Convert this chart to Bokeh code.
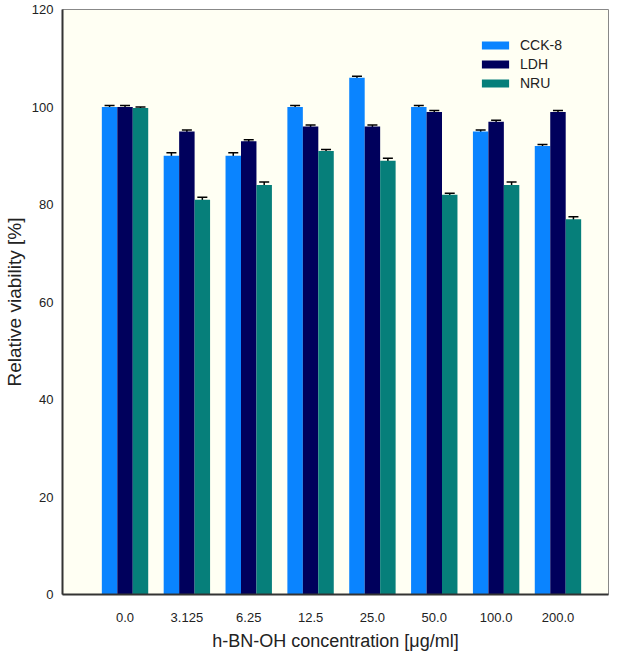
from bokeh.plotting import figure
from bokeh.models import ColumnDataSource, FixedTicker, Range1d, Whisker, Legend, LegendItem
from bokeh.transform import dodge
from bokeh.embed import file_html
from bokeh.resources import INLINE

concentrations = ["0.0", "3.125", "6.25", "12.5", "25.0", "50.0", "100.0", "200.0"]
cck8 = [100.0, 90.0, 90.0, 100.0, 106.0, 100.0, 95.0, 92.0]
ldh = [100.0, 95.0, 93.0, 96.0, 96.0, 99.0, 97.0, 99.0]
nru = [99.8, 81.0, 84.0, 91.0, 89.0, 82.0, 84.0, 77.0]
cck8_err = [0.3, 0.6, 0.6, 0.3, 0.3, 0.3, 0.3, 0.3]
ldh_err = [0.3, 0.3, 0.3, 0.3, 0.3, 0.3, 0.3, 0.3]
nru_err = [0.2, 0.5, 0.6, 0.3, 0.5, 0.3, 0.6, 0.5]
y_ticks = [0, 20, 40, 60, 80, 100, 120]

FONT = "Liberation Sans"
TXT = "#222222"

idx = list(range(len(concentrations)))
src = ColumnDataSource(dict(
    x=idx,
    cck=cck8, ldh=ldh, nru=nru,
    cck_lo=[v - e for v, e in zip(cck8, cck8_err)], cck_hi=[v + e for v, e in zip(cck8, cck8_err)],
    ldh_lo=[v - e for v, e in zip(ldh, ldh_err)], ldh_hi=[v + e for v, e in zip(ldh, ldh_err)],
    nru_lo=[v - e for v, e in zip(nru, nru_err)], nru_hi=[v + e for v, e in zip(nru, nru_err)],
))

p = figure(width=610, height=653, output_backend="svg", toolbar_location=None,
           x_range=Range1d(-1.011, 7.817), y_range=Range1d(0, 120),
           min_border_left=58, min_border_right=2, min_border_top=9, min_border_bottom=58)

p.background_fill_color = "#FFFFF3"
p.border_fill_color = "white"
p.outline_line_color = "#888888"
p.outline_line_width = 1
p.grid.visible = False

W = 0.25
series = [("cck", "CCK-8", "#0A84FF", -W), ("ldh", "LDH", "#00005C", 0.0), ("nru", "NRU", "#067F7A", W)]
items = []
for key, label, color, off in series:
    r = p.vbar(x=dodge("x", off), top=key, width=W, bottom=0, source=src,
               fill_color=color, line_color=None)
    items.append(LegendItem(label=label, renderers=[r]))
for key, label, color, off in series:
    w = Whisker(base=dodge("x", off), lower=key + "_lo", upper=key + "_hi", source=src,
                line_color="black", line_width=1.5)
    w.upper_head.size = 10
    w.upper_head.line_color = "black"
    w.upper_head.line_width = 1.5
    w.lower_head.size = 10
    w.lower_head.line_color = "black"
    w.lower_head.line_width = 1.5
    p.add_layout(w)

legend = Legend(items=items, location=(416, 503), padding=0, margin=0, spacing=3,
                glyph_width=34, glyph_height=10, label_height=10, label_standoff=8,
                label_text_font=FONT, label_text_font_size="14px", label_text_color=TXT,
                background_fill_alpha=0, border_line_color=None)
p.add_layout(legend)

p.xaxis.ticker = FixedTicker(ticks=idx)
p.xaxis.major_label_overrides = {i: c for i, c in enumerate(concentrations)}
p.yaxis.ticker = FixedTicker(ticks=y_ticks)

for ax in (p.xaxis[0], p.yaxis[0]):
    ax.major_tick_out = 0
    ax.major_tick_in = 0
    ax.minor_tick_out = 0
    ax.minor_tick_in = 0
    ax.axis_line_color = "#333333"
    ax.axis_line_width = 2
    ax.major_label_text_font = FONT
    ax.major_label_text_font_size = "13px"
    ax.major_label_text_color = TXT
    ax.axis_label_text_font = FONT
    ax.axis_label_text_font_style = "normal"
    ax.axis_label_text_color = TXT

p.xaxis.axis_label = "h-BN-OH concentration [μg/ml]"
p.yaxis.axis_label = "Relative viability [%]"
p.xaxis.axis_label_text_font_size = "18px"
p.yaxis.axis_label_text_font_size = "19px"
p.xaxis.major_label_standoff = 18
p.xaxis.axis_label_standoff = 6
p.yaxis.major_label_standoff = 9
p.yaxis.axis_label_standoff = 4

open("out.html", "w").write(file_html(p, INLINE))
